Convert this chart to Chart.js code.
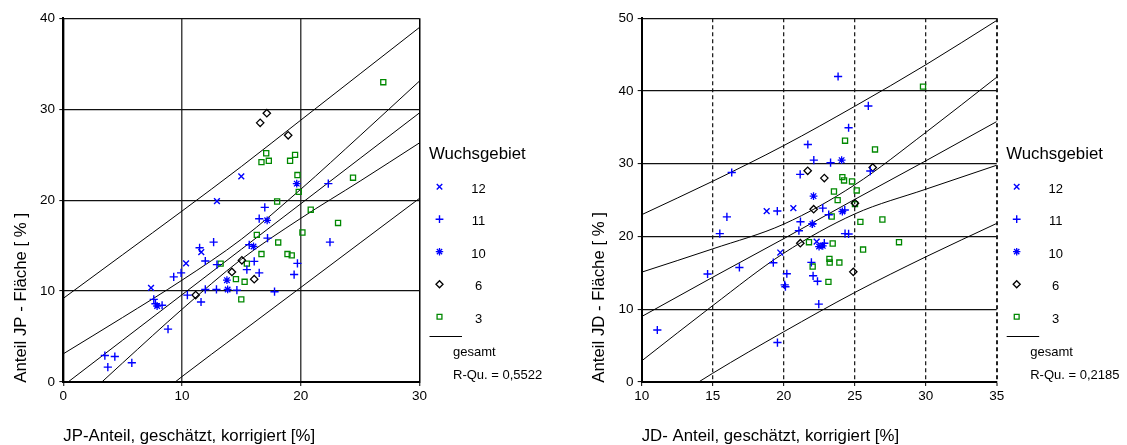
<!DOCTYPE html>
<html><head><meta charset="utf-8">
<script src="https://cdn.jsdelivr.net/npm/chart.js@4.4.1/dist/chart.umd.min.js"></script>
<style>
html,body{margin:0;padding:0;background:#fff;width:1127px;height:445px;overflow:hidden}
canvas{position:absolute;top:0}
#c1{left:0}
#c2{left:560px}
</style></head><body>
<canvas id="c1" width="560" height="445"></canvas>
<canvas id="c2" width="567" height="445"></canvas>
<script>
// ---------- DATA ----------
const seriesLabels = ['12', '11', '10', '6', '3'];
const legendTitle = 'Wuchsgebiet';
const fitLabel = 'gesamt';

// Left chart: JP
const jpXTicks = [0, 10, 20, 30];
const jpYTicks = [0, 10, 20, 30, 40];
const jp12 = [[14.99,22.62],[12.94,19.89],[11.62,14.29],[10.34,13.05],[7.39,10.36]];
const jp11 = [[22.32,21.82],[16.97,19.2],[16.5,17.96],[17.2,15.82],[22.46,15.38],[12.66,15.38],[11.48,14.76],[15.66,15.09],[11.96,13.31],[12.94,12.91],[15.46,12.36],[16.08,13.27],[16.5,12.0],[19.72,13.05],[19.44,11.82],[17.79,9.93],[9.92,12.0],[9.3,11.56],[7.62,9.09],[8.32,8.44],[7.76,8.6],[10.45,9.56],[11.6,8.8],[11.96,10.18],[12.9,10.18],[14.62,10.1],[8.82,5.82],[3.5,2.91],[4.34,2.8],[3.75,1.64],[5.77,2.11]];
const jp10 = [[19.66,21.82],[17.17,17.78],[16.02,14.91],[13.84,10.18],[13.78,11.2],[7.9,8.36]];
const jp6 = [[17.14,29.56],[16.58,28.5],[18.94,27.13],[15.04,13.38],[14.2,12.1],[16.08,11.31],[11.15,9.56]];
const jp3 = [[26.95,32.97],[17.09,25.16],[16.69,24.18],[17.31,24.33],[19.52,24.98],[19.1,24.33],[19.72,22.76],[19.83,20.91],[24.4,22.47],[18.01,19.85],[20.84,18.95],[23.14,17.49],[20.14,16.44],[16.3,16.18],[18.1,15.35],[16.69,14.07],[18.88,14.07],[19.24,13.93],[13.25,13.02],[15.46,13.02],[14.54,11.31],[15.27,11.02],[14.99,9.09]];
const jpLineX = [0, 5, 10, 15, 20, 25, 30];
const jpFit = [-0.4, 4.6, 9.6, 14.6, 19.6, 24.6, 29.6];
const jpConfHi = [3.1, 7.1, 11.2, 15.7, 21.2, 27.1, 33.1];
const jpConfLo = [-3.9, 2.1, 8.0, 13.5, 18.0, 22.1, 26.3];
const jpPredHi = [9.2, 14.0, 18.8, 23.7, 28.8, 33.9, 39.0];
const jpPredLo = [-9.6, -4.6, 0.6, 5.5, 10.4, 15.3, 20.2];
const jpR2 = 'R-Qu. = 0,5522';

// Right chart: JD
const jdXTicks = [10, 15, 20, 25, 30, 35];
const jdYTicks = [0, 10, 20, 30, 40, 50];
const jd12 = [[18.8,23.5],[20.68,23.9],[19.76,17.8],[22.32,19.31]];
const jd11 = [[23.83,42.0],[25.96,37.95],[24.57,34.95],[21.7,32.65],[22.12,30.5],[23.3,30.15],[21.16,28.55],[16.34,28.8],[26.1,29.0],[16.0,22.7],[15.5,20.4],[19.55,23.5],[22.75,23.9],[23.17,23.0],[24.3,23.65],[21.18,22.04],[21.07,20.8],[24.32,20.4],[24.57,20.35],[22.02,21.75],[19.27,16.4],[16.88,15.75],[14.64,14.85],[20.22,14.88],[20.07,13.35],[20.12,13.1],[21.95,16.45],[22.07,14.6],[22.38,13.85],[22.47,10.7],[11.1,7.15],[19.56,5.42],[22.86,19.08]];
const jd10 = [[24.08,30.5],[22.1,25.55],[22.02,21.7],[24.13,23.44],[22.49,18.62],[22.75,18.72]];
const jd6 = [[21.69,29.04],[22.86,28.03],[26.27,29.5],[22.11,23.76],[25.02,24.59],[21.17,19.08],[24.9,15.14]];
const jd3 = [[29.81,40.6],[24.32,33.17],[26.43,31.97],[24.13,28.17],[24.25,27.71],[24.81,27.57],[25.14,26.33],[23.54,26.19],[23.8,25.0],[25.02,24.45],[23.38,22.75],[25.4,22.02],[26.95,22.34],[21.78,19.22],[23.45,19.04],[28.12,19.22],[25.59,18.21],[23.22,16.93],[23.24,16.42],[23.92,16.42],[22.04,15.87],[23.15,13.76]];
const jdLineX = [10, 15, 20, 25, 30, 35];
const jdFit = [9.0, 14.4, 19.7, 25.1, 30.4, 35.8];
const jdConfHi = [15.1, 18.3, 21.7, 27.1, 34.3, 41.9];
const jdConfLo = [2.9, 10.5, 17.7, 23.1, 26.5, 29.8];
const jdPredHi = [23.0, 27.6, 32.5, 37.9, 43.6, 49.7];
const jdPredLo = [-5.0, 1.2, 6.9, 12.3, 17.2, 21.8];
const jdR2 = 'R-Qu. = 0,2185';

// ---------- STYLES ----------
const FONT = "'Liberation Sans', Arial, Helvetica, sans-serif";
Chart.defaults.font.family = FONT;
const styles = [
  {pointStyle:'crossRot', color:'#0000ff', radius:4.1, bw:1.4},
  {pointStyle:'cross',    color:'#0000ff', radius:4.1, bw:1.4},
  {pointStyle:'star',     color:'#0000ff', radius:3.9, bw:1.3},
  {pointStyle:'rectRot',  color:'#000000', radius:3.7, bw:1.3},
  {pointStyle:'rect',     color:'#008800', radius:3.6, bw:1.3}
];

function drawMarker(ctx, st, x, y, r){
  ctx.save();
  ctx.strokeStyle = st.color; ctx.fillStyle = 'rgba(0,0,0,0)'; ctx.lineWidth = st.bw;
  if (Chart.helpers && Chart.helpers.drawPoint) {
    Chart.helpers.drawPoint(ctx, {pointStyle: st.pointStyle, radius: r, borderWidth: st.bw, rotation: 0}, x, y);
  }
  ctx.restore();
}

const decor = {
  id: 'decor',
  afterDraw(chart, args, o) {
    const {ctx, chartArea: a} = chart;
    ctx.save();
    ctx.fillStyle = '#000';
    ctx.font = '16.8px ' + FONT;
    ctx.textAlign = 'left'; ctx.textBaseline = 'alphabetic';
    ctx.fillText(o.xTitle, a.left, 441);
    ctx.save();
    ctx.translate(a.left - 37.3, a.bottom + 0.7);
    ctx.rotate(-Math.PI / 2);
    ctx.fillText(o.yTitle, 0, 0);
    ctx.restore();
    const lx = a.right;
    ctx.fillText(legendTitle, lx + 9.5, 159);
    styles.forEach((st, i) => {
      const y = 186.7 + 32.5 * i;
      drawMarker(ctx, st, lx + 20, y, st.radius * 0.95);
      ctx.fillStyle = '#000';
      ctx.font = '13px ' + FONT;
      ctx.textAlign = 'center'; ctx.textBaseline = 'middle';
      ctx.fillText(seriesLabels[i], lx + 59, y + 2.5);
    });
    ctx.strokeStyle = '#000'; ctx.lineWidth = 1;
    ctx.beginPath(); ctx.moveTo(lx + 10, 336.5); ctx.lineTo(lx + 42.5, 336.5); ctx.stroke();
    ctx.font = '13px ' + FONT;
    ctx.textAlign = 'left'; ctx.textBaseline = 'alphabetic';
    ctx.fillText(fitLabel, lx + 33.5, 355.5);
    ctx.fillText(o.r2, lx + 33.5, 379.3);
    ctx.restore();
  }
};

function pts(arr){ return arr.map(p => ({x: p[0], y: p[1]})); }
function pointDs(label, arr, st){
  return {label, data: pts(arr), showLine: false, pointStyle: st.pointStyle,
    pointRadius: st.radius, pointHoverRadius: st.radius, pointBorderColor: st.color,
    pointBackgroundColor: 'rgba(0,0,0,0)', pointBorderWidth: st.bw, order: 0};
}
function lineDs(xs, ys){
  return {data: xs.map((x, i) => ({x, y: ys[i]})), showLine: true, pointRadius: 0,
    borderColor: '#000', backgroundColor: '#000', borderWidth: 1,
    cubicInterpolationMode: 'monotone', fill: false, order: 1};
}

function makeChart(id, c){
  const W = c.W, H = 445;
  return new Chart(document.getElementById(id), {
    type: 'scatter',
    data: {datasets: [
      pointDs(seriesLabels[0], c.s[0], styles[0]),
      pointDs(seriesLabels[1], c.s[1], styles[1]),
      pointDs(seriesLabels[2], c.s[2], styles[2]),
      pointDs(seriesLabels[3], c.s[3], styles[3]),
      pointDs(seriesLabels[4], c.s[4], styles[4]),
      ...c.lines.map(ys => lineDs(c.lineX, ys))
    ]},
    options: {
      responsive: false, animation: false, devicePixelRatio: 1,
      layout: {padding: {left: 0, top: c.top, right: W - c.right, bottom: 0}},
      plugins: {legend: {display: false}, tooltip: {enabled: false}, title: {display: false},
        decor: {xTitle: c.xTitle, yTitle: c.yTitle, r2: c.r2}},
      scales: {
        x: {type: 'linear', min: c.xTicks[0], max: c.xTicks[c.xTicks.length - 1],
          afterBuildTicks: s => { s.ticks = c.xTicks.map(v => ({value: v})); },
          afterFit: s => { s.height = H - c.bottom; },
          ticks: {color: '#000', font: {size: 13.5}, padding: 2, maxRotation: 0, autoSkip: false},
          grid: {color: c.xGridColor, lineWidth: c.xGridWidth, tickLength: 4, tickColor: '#000', tickWidth: 1, tickBorderDash: []},
          border: {display: true, color: '#000', width: 2, dash: c.xDash}
        },
        y: {type: 'linear', min: c.yTicks[0], max: c.yTicks[c.yTicks.length - 1],
          afterBuildTicks: s => { s.ticks = c.yTicks.map(v => ({value: v})); },
          afterFit: s => { s.width = c.left; },
          ticks: {color: '#000', font: {size: 13.5}, padding: 4.3, autoSkip: false},
          grid: {color: '#111', lineWidth: 1.2, tickLength: 4, tickColor: '#000', tickWidth: 1},
          border: {display: true, color: '#000', width: 2}
        }
      }
    },
    plugins: [decor]
  });
}

makeChart('c1', {
  W: 560, left: 63.3, right: 419.5, top: 18.3, bottom: 382,
  xTicks: jpXTicks, yTicks: jpYTicks,
  s: [jp12, jp11, jp10, jp6, jp3],
  lineX: jpLineX, lines: [jpFit, jpConfHi, jpConfLo, jpPredHi, jpPredLo],
  xTitle: 'JP-Anteil, geschätzt, korrigiert [%]', yTitle: 'Anteil JP - Fläche [ % ]', r2: jpR2,
  xGridColor: ctx => (ctx.tick && ctx.tick.value === 30) ? '#000' : '#444',
  xGridWidth: 1.5, xDash: []
});
makeChart('c2', {
  W: 567, left: 81.7, right: 436.7, top: 18.3, bottom: 382,
  xTicks: jdXTicks, yTicks: jdYTicks,
  s: [jd12, jd11, jd10, jd6, jd3],
  lineX: jdLineX, lines: [jdFit, jdConfHi, jdConfLo, jdPredHi, jdPredLo],
  xTitle: 'JD- Anteil, geschätzt, korrigiert [%]', yTitle: 'Anteil JD - Fläche [ % ]', r2: jdR2,
  xGridColor: '#222',
  xGridWidth: ctx => (ctx.tick && ctx.tick.value === 35) ? 2 : 1.3, xDash: [4, 3]
});
</script>
</body></html>
